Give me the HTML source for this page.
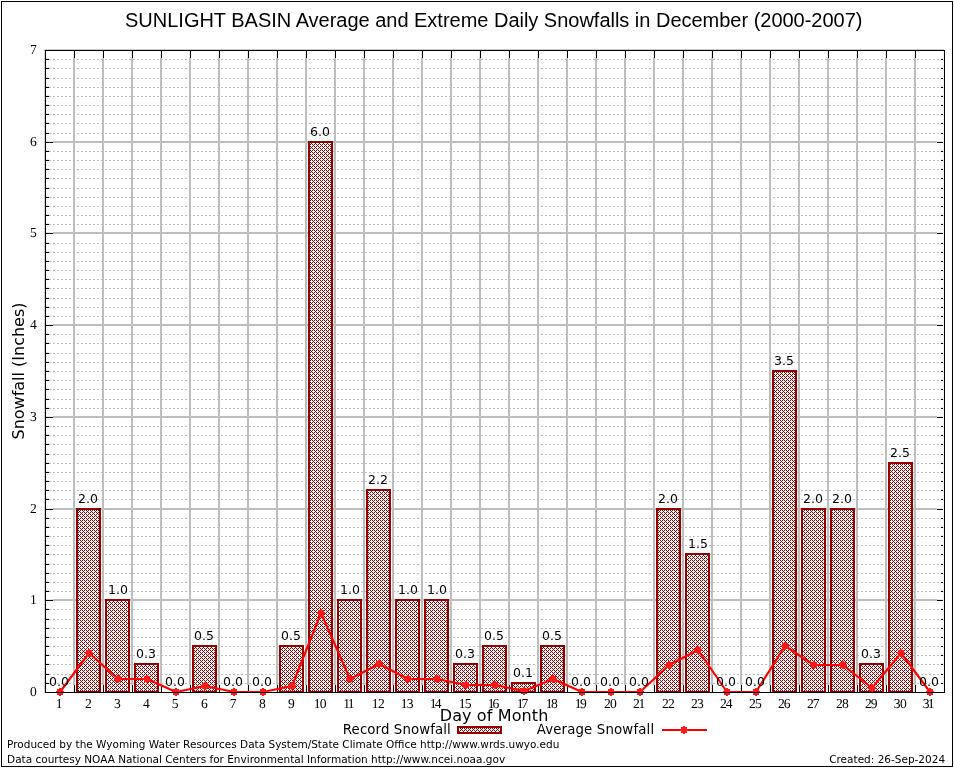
<!DOCTYPE html>
<html lang="en"><head><meta charset="utf-8"><title>SUNLIGHT BASIN Average and Extreme Daily Snowfalls in December (2000-2007)</title>
<style>html,body{margin:0;padding:0;background:#fff;}svg{display:block;}</style></head>
<body>
<svg width="954" height="768" viewBox="0 0 954 768">
<defs><pattern id="hatch" width="4" height="4" patternUnits="userSpaceOnUse" x="-1" y="-1"><rect width="4" height="4" fill="#fff"/><g fill="#960000" shape-rendering="crispEdges"><rect x="0" y="0" width="1" height="1"/><rect x="1" y="1" width="1" height="1"/><rect x="2" y="2" width="1" height="1"/><rect x="3" y="3" width="1" height="1"/><rect x="3" y="1" width="1" height="1"/><rect x="1" y="3" width="1" height="1"/></g></pattern></defs>
<rect x="0" y="0" width="954" height="768" fill="#fff"/>
<g shape-rendering="crispEdges">
<rect x="1.5" y="1.5" width="951" height="765" fill="none" stroke="#000" stroke-width="1"/></g>
<g stroke="#bebebe" stroke-width="1" stroke-dasharray="2 2">
<line x1="45" y1="683.5" x2="944" y2="683.5"/>
<line x1="45" y1="674.5" x2="944" y2="674.5"/>
<line x1="45" y1="664.5" x2="944" y2="664.5"/>
<line x1="45" y1="655.5" x2="944" y2="655.5"/>
<line x1="45" y1="646.5" x2="944" y2="646.5"/>
<line x1="45" y1="637.5" x2="944" y2="637.5"/>
<line x1="45" y1="628.5" x2="944" y2="628.5"/>
<line x1="45" y1="619.5" x2="944" y2="619.5"/>
<line x1="45" y1="609.5" x2="944" y2="609.5"/>
<line x1="45" y1="591.5" x2="944" y2="591.5"/>
<line x1="45" y1="582.5" x2="944" y2="582.5"/>
<line x1="45" y1="573.5" x2="944" y2="573.5"/>
<line x1="45" y1="564.5" x2="944" y2="564.5"/>
<line x1="45" y1="554.5" x2="944" y2="554.5"/>
<line x1="45" y1="545.5" x2="944" y2="545.5"/>
<line x1="45" y1="536.5" x2="944" y2="536.5"/>
<line x1="45" y1="527.5" x2="944" y2="527.5"/>
<line x1="45" y1="518.5" x2="944" y2="518.5"/>
<line x1="45" y1="499.5" x2="944" y2="499.5"/>
<line x1="45" y1="490.5" x2="944" y2="490.5"/>
<line x1="45" y1="481.5" x2="944" y2="481.5"/>
<line x1="45" y1="472.5" x2="944" y2="472.5"/>
<line x1="45" y1="463.5" x2="944" y2="463.5"/>
<line x1="45" y1="454.5" x2="944" y2="454.5"/>
<line x1="45" y1="444.5" x2="944" y2="444.5"/>
<line x1="45" y1="435.5" x2="944" y2="435.5"/>
<line x1="45" y1="426.5" x2="944" y2="426.5"/>
<line x1="45" y1="408.5" x2="944" y2="408.5"/>
<line x1="45" y1="399.5" x2="944" y2="399.5"/>
<line x1="45" y1="389.5" x2="944" y2="389.5"/>
<line x1="45" y1="380.5" x2="944" y2="380.5"/>
<line x1="45" y1="371.5" x2="944" y2="371.5"/>
<line x1="45" y1="362.5" x2="944" y2="362.5"/>
<line x1="45" y1="353.5" x2="944" y2="353.5"/>
<line x1="45" y1="343.5" x2="944" y2="343.5"/>
<line x1="45" y1="334.5" x2="944" y2="334.5"/>
<line x1="45" y1="316.5" x2="944" y2="316.5"/>
<line x1="45" y1="307.5" x2="944" y2="307.5"/>
<line x1="45" y1="298.5" x2="944" y2="298.5"/>
<line x1="45" y1="288.5" x2="944" y2="288.5"/>
<line x1="45" y1="279.5" x2="944" y2="279.5"/>
<line x1="45" y1="270.5" x2="944" y2="270.5"/>
<line x1="45" y1="261.5" x2="944" y2="261.5"/>
<line x1="45" y1="252.5" x2="944" y2="252.5"/>
<line x1="45" y1="243.5" x2="944" y2="243.5"/>
<line x1="45" y1="224.5" x2="944" y2="224.5"/>
<line x1="45" y1="215.5" x2="944" y2="215.5"/>
<line x1="45" y1="206.5" x2="944" y2="206.5"/>
<line x1="45" y1="197.5" x2="944" y2="197.5"/>
<line x1="45" y1="188.5" x2="944" y2="188.5"/>
<line x1="45" y1="178.5" x2="944" y2="178.5"/>
<line x1="45" y1="169.5" x2="944" y2="169.5"/>
<line x1="45" y1="160.5" x2="944" y2="160.5"/>
<line x1="45" y1="151.5" x2="944" y2="151.5"/>
<line x1="45" y1="133.5" x2="944" y2="133.5"/>
<line x1="45" y1="123.5" x2="944" y2="123.5"/>
<line x1="45" y1="114.5" x2="944" y2="114.5"/>
<line x1="45" y1="105.5" x2="944" y2="105.5"/>
<line x1="45" y1="96.5" x2="944" y2="96.5"/>
<line x1="45" y1="87.5" x2="944" y2="87.5"/>
<line x1="45" y1="78.5" x2="944" y2="78.5"/>
<line x1="45" y1="68.5" x2="944" y2="68.5"/>
<line x1="45" y1="59.5" x2="944" y2="59.5"/>
</g>
<g stroke="#bebebe" stroke-width="2">
<line x1="74" y1="50" x2="74" y2="692"/>
<line x1="103" y1="50" x2="103" y2="692"/>
<line x1="132" y1="50" x2="132" y2="692"/>
<line x1="161" y1="50" x2="161" y2="692"/>
<line x1="190" y1="50" x2="190" y2="692"/>
<line x1="219" y1="50" x2="219" y2="692"/>
<line x1="248" y1="50" x2="248" y2="692"/>
<line x1="277" y1="50" x2="277" y2="692"/>
<line x1="306" y1="50" x2="306" y2="692"/>
<line x1="335" y1="50" x2="335" y2="692"/>
<line x1="364" y1="50" x2="364" y2="692"/>
<line x1="393" y1="50" x2="393" y2="692"/>
<line x1="422" y1="50" x2="422" y2="692"/>
<line x1="451" y1="50" x2="451" y2="692"/>
<line x1="480" y1="50" x2="480" y2="692"/>
<line x1="509" y1="50" x2="509" y2="692"/>
<line x1="538" y1="50" x2="538" y2="692"/>
<line x1="567" y1="50" x2="567" y2="692"/>
<line x1="596" y1="50" x2="596" y2="692"/>
<line x1="625" y1="50" x2="625" y2="692"/>
<line x1="654" y1="50" x2="654" y2="692"/>
<line x1="683" y1="50" x2="683" y2="692"/>
<line x1="712" y1="50" x2="712" y2="692"/>
<line x1="741" y1="50" x2="741" y2="692"/>
<line x1="770" y1="50" x2="770" y2="692"/>
<line x1="799" y1="50" x2="799" y2="692"/>
<line x1="828" y1="50" x2="828" y2="692"/>
<line x1="857" y1="50" x2="857" y2="692"/>
<line x1="886" y1="50" x2="886" y2="692"/>
<line x1="915" y1="50" x2="915" y2="692"/>
<line x1="45" y1="600" x2="944" y2="600"/>
<line x1="45" y1="509" x2="944" y2="509"/>
<line x1="45" y1="417" x2="944" y2="417"/>
<line x1="45" y1="325" x2="944" y2="325"/>
<line x1="45" y1="233" x2="944" y2="233"/>
<line x1="45" y1="142" x2="944" y2="142"/>
</g>
<g shape-rendering="crispEdges"><path fill="#e8e8e8" d="M73 50h1v8h-1zM73 685h1v8h-1zM102 50h1v8h-1zM102 685h1v8h-1zM131 50h1v8h-1zM131 685h1v8h-1zM160 50h1v8h-1zM160 685h1v8h-1zM189 50h1v8h-1zM189 685h1v8h-1zM218 50h1v8h-1zM218 685h1v8h-1zM247 50h1v8h-1zM247 685h1v8h-1zM276 50h1v8h-1zM276 685h1v8h-1zM305 50h1v8h-1zM305 685h1v8h-1zM334 50h1v8h-1zM334 685h1v8h-1zM363 50h1v8h-1zM363 685h1v8h-1zM392 50h1v8h-1zM392 685h1v8h-1zM421 50h1v8h-1zM421 685h1v8h-1zM450 50h1v8h-1zM450 685h1v8h-1zM479 50h1v8h-1zM479 685h1v8h-1zM508 50h1v8h-1zM508 685h1v8h-1zM537 50h1v8h-1zM537 685h1v8h-1zM566 50h1v8h-1zM566 685h1v8h-1zM595 50h1v8h-1zM595 685h1v8h-1zM624 50h1v8h-1zM624 685h1v8h-1zM653 50h1v8h-1zM653 685h1v8h-1zM682 50h1v8h-1zM682 685h1v8h-1zM711 50h1v8h-1zM711 685h1v8h-1zM740 50h1v8h-1zM740 685h1v8h-1zM769 50h1v8h-1zM769 685h1v8h-1zM798 50h1v8h-1zM798 685h1v8h-1zM827 50h1v8h-1zM827 685h1v8h-1zM856 50h1v8h-1zM856 685h1v8h-1zM885 50h1v8h-1zM885 685h1v8h-1zM914 50h1v8h-1zM914 685h1v8h-1zM45 682h4v1h-4zM941 682h2v1h-2zM45 673h4v1h-4zM941 673h2v1h-2zM45 663h4v1h-4zM941 663h2v1h-2zM45 654h4v1h-4zM941 654h2v1h-2zM45 645h4v1h-4zM941 645h2v1h-2zM45 636h4v1h-4zM941 636h2v1h-2zM45 627h4v1h-4zM941 627h2v1h-2zM45 618h4v1h-4zM941 618h2v1h-2zM45 608h4v1h-4zM941 608h2v1h-2zM45 599h8v1h-8zM937 599h6v1h-6zM45 590h4v1h-4zM941 590h2v1h-2zM45 581h4v1h-4zM941 581h2v1h-2zM45 572h4v1h-4zM941 572h2v1h-2zM45 563h4v1h-4zM941 563h2v1h-2zM45 553h4v1h-4zM941 553h2v1h-2zM45 544h4v1h-4zM941 544h2v1h-2zM45 535h4v1h-4zM941 535h2v1h-2zM45 526h4v1h-4zM941 526h2v1h-2zM45 517h4v1h-4zM941 517h2v1h-2zM45 508h8v1h-8zM937 508h6v1h-6zM45 498h4v1h-4zM941 498h2v1h-2zM45 489h4v1h-4zM941 489h2v1h-2zM45 480h4v1h-4zM941 480h2v1h-2zM45 471h4v1h-4zM941 471h2v1h-2zM45 462h4v1h-4zM941 462h2v1h-2zM45 453h4v1h-4zM941 453h2v1h-2zM45 443h4v1h-4zM941 443h2v1h-2zM45 434h4v1h-4zM941 434h2v1h-2zM45 425h4v1h-4zM941 425h2v1h-2zM45 416h8v1h-8zM937 416h6v1h-6zM45 407h4v1h-4zM941 407h2v1h-2zM45 398h4v1h-4zM941 398h2v1h-2zM45 388h4v1h-4zM941 388h2v1h-2zM45 379h4v1h-4zM941 379h2v1h-2zM45 370h4v1h-4zM941 370h2v1h-2zM45 361h4v1h-4zM941 361h2v1h-2zM45 352h4v1h-4zM941 352h2v1h-2zM45 342h4v1h-4zM941 342h2v1h-2zM45 333h4v1h-4zM941 333h2v1h-2zM45 324h8v1h-8zM937 324h6v1h-6zM45 315h4v1h-4zM941 315h2v1h-2zM45 306h4v1h-4zM941 306h2v1h-2zM45 297h4v1h-4zM941 297h2v1h-2zM45 287h4v1h-4zM941 287h2v1h-2zM45 278h4v1h-4zM941 278h2v1h-2zM45 269h4v1h-4zM941 269h2v1h-2zM45 260h4v1h-4zM941 260h2v1h-2zM45 251h4v1h-4zM941 251h2v1h-2zM45 242h4v1h-4zM941 242h2v1h-2zM45 232h8v1h-8zM937 232h6v1h-6zM45 223h4v1h-4zM941 223h2v1h-2zM45 214h4v1h-4zM941 214h2v1h-2zM45 205h4v1h-4zM941 205h2v1h-2zM45 196h4v1h-4zM941 196h2v1h-2zM45 187h4v1h-4zM941 187h2v1h-2zM45 177h4v1h-4zM941 177h2v1h-2zM45 168h4v1h-4zM941 168h2v1h-2zM45 159h4v1h-4zM941 159h2v1h-2zM45 150h4v1h-4zM941 150h2v1h-2zM45 141h8v1h-8zM937 141h6v1h-6zM45 132h4v1h-4zM941 132h2v1h-2zM45 122h4v1h-4zM941 122h2v1h-2zM45 113h4v1h-4zM941 113h2v1h-2zM45 104h4v1h-4zM941 104h2v1h-2zM45 95h4v1h-4zM941 95h2v1h-2zM45 86h4v1h-4zM941 86h2v1h-2zM45 77h4v1h-4zM941 77h2v1h-2zM45 67h4v1h-4zM941 67h2v1h-2zM45 58h4v1h-4zM941 58h2v1h-2z"/><path fill="#000" d="M74 50h1v8h-1zM74 685h1v8h-1zM103 50h1v8h-1zM103 685h1v8h-1zM132 50h1v8h-1zM132 685h1v8h-1zM161 50h1v8h-1zM161 685h1v8h-1zM190 50h1v8h-1zM190 685h1v8h-1zM219 50h1v8h-1zM219 685h1v8h-1zM248 50h1v8h-1zM248 685h1v8h-1zM277 50h1v8h-1zM277 685h1v8h-1zM306 50h1v8h-1zM306 685h1v8h-1zM335 50h1v8h-1zM335 685h1v8h-1zM364 50h1v8h-1zM364 685h1v8h-1zM393 50h1v8h-1zM393 685h1v8h-1zM422 50h1v8h-1zM422 685h1v8h-1zM451 50h1v8h-1zM451 685h1v8h-1zM480 50h1v8h-1zM480 685h1v8h-1zM509 50h1v8h-1zM509 685h1v8h-1zM538 50h1v8h-1zM538 685h1v8h-1zM567 50h1v8h-1zM567 685h1v8h-1zM596 50h1v8h-1zM596 685h1v8h-1zM625 50h1v8h-1zM625 685h1v8h-1zM654 50h1v8h-1zM654 685h1v8h-1zM683 50h1v8h-1zM683 685h1v8h-1zM712 50h1v8h-1zM712 685h1v8h-1zM741 50h1v8h-1zM741 685h1v8h-1zM770 50h1v8h-1zM770 685h1v8h-1zM799 50h1v8h-1zM799 685h1v8h-1zM828 50h1v8h-1zM828 685h1v8h-1zM857 50h1v8h-1zM857 685h1v8h-1zM886 50h1v8h-1zM886 685h1v8h-1zM915 50h1v8h-1zM915 685h1v8h-1zM45 683h4v1h-4zM941 683h2v1h-2zM45 674h4v1h-4zM941 674h2v1h-2zM45 664h4v1h-4zM941 664h2v1h-2zM45 655h4v1h-4zM941 655h2v1h-2zM45 646h4v1h-4zM941 646h2v1h-2zM45 637h4v1h-4zM941 637h2v1h-2zM45 628h4v1h-4zM941 628h2v1h-2zM45 619h4v1h-4zM941 619h2v1h-2zM45 609h4v1h-4zM941 609h2v1h-2zM45 600h8v1h-8zM937 600h6v1h-6zM45 591h4v1h-4zM941 591h2v1h-2zM45 582h4v1h-4zM941 582h2v1h-2zM45 573h4v1h-4zM941 573h2v1h-2zM45 564h4v1h-4zM941 564h2v1h-2zM45 554h4v1h-4zM941 554h2v1h-2zM45 545h4v1h-4zM941 545h2v1h-2zM45 536h4v1h-4zM941 536h2v1h-2zM45 527h4v1h-4zM941 527h2v1h-2zM45 518h4v1h-4zM941 518h2v1h-2zM45 509h8v1h-8zM937 509h6v1h-6zM45 499h4v1h-4zM941 499h2v1h-2zM45 490h4v1h-4zM941 490h2v1h-2zM45 481h4v1h-4zM941 481h2v1h-2zM45 472h4v1h-4zM941 472h2v1h-2zM45 463h4v1h-4zM941 463h2v1h-2zM45 454h4v1h-4zM941 454h2v1h-2zM45 444h4v1h-4zM941 444h2v1h-2zM45 435h4v1h-4zM941 435h2v1h-2zM45 426h4v1h-4zM941 426h2v1h-2zM45 417h8v1h-8zM937 417h6v1h-6zM45 408h4v1h-4zM941 408h2v1h-2zM45 399h4v1h-4zM941 399h2v1h-2zM45 389h4v1h-4zM941 389h2v1h-2zM45 380h4v1h-4zM941 380h2v1h-2zM45 371h4v1h-4zM941 371h2v1h-2zM45 362h4v1h-4zM941 362h2v1h-2zM45 353h4v1h-4zM941 353h2v1h-2zM45 343h4v1h-4zM941 343h2v1h-2zM45 334h4v1h-4zM941 334h2v1h-2zM45 325h8v1h-8zM937 325h6v1h-6zM45 316h4v1h-4zM941 316h2v1h-2zM45 307h4v1h-4zM941 307h2v1h-2zM45 298h4v1h-4zM941 298h2v1h-2zM45 288h4v1h-4zM941 288h2v1h-2zM45 279h4v1h-4zM941 279h2v1h-2zM45 270h4v1h-4zM941 270h2v1h-2zM45 261h4v1h-4zM941 261h2v1h-2zM45 252h4v1h-4zM941 252h2v1h-2zM45 243h4v1h-4zM941 243h2v1h-2zM45 233h8v1h-8zM937 233h6v1h-6zM45 224h4v1h-4zM941 224h2v1h-2zM45 215h4v1h-4zM941 215h2v1h-2zM45 206h4v1h-4zM941 206h2v1h-2zM45 197h4v1h-4zM941 197h2v1h-2zM45 188h4v1h-4zM941 188h2v1h-2zM45 178h4v1h-4zM941 178h2v1h-2zM45 169h4v1h-4zM941 169h2v1h-2zM45 160h4v1h-4zM941 160h2v1h-2zM45 151h4v1h-4zM941 151h2v1h-2zM45 142h8v1h-8zM937 142h6v1h-6zM45 133h4v1h-4zM941 133h2v1h-2zM45 123h4v1h-4zM941 123h2v1h-2zM45 114h4v1h-4zM941 114h2v1h-2zM45 105h4v1h-4zM941 105h2v1h-2zM45 96h4v1h-4zM941 96h2v1h-2zM45 87h4v1h-4zM941 87h2v1h-2zM45 78h4v1h-4zM941 78h2v1h-2zM45 68h4v1h-4zM941 68h2v1h-2zM45 59h4v1h-4zM941 59h2v1h-2z"/></g>
<g fill="url(#hatch)" stroke="#960000" stroke-width="2">
<rect x="77" y="509" width="23" height="183"/>
<rect x="106" y="600" width="23" height="92"/>
<rect x="135" y="664" width="23" height="28"/>
<rect x="193" y="646" width="23" height="46"/>
<rect x="280" y="646" width="23" height="46"/>
<rect x="309" y="142" width="23" height="550"/>
<rect x="338" y="600" width="23" height="92"/>
<rect x="367" y="490" width="23" height="202"/>
<rect x="396" y="600" width="23" height="92"/>
<rect x="425" y="600" width="23" height="92"/>
<rect x="454" y="664" width="23" height="28"/>
<rect x="483" y="646" width="23" height="46"/>
<rect x="512" y="683" width="23" height="9"/>
<rect x="541" y="646" width="23" height="46"/>
<rect x="657" y="509" width="23" height="183"/>
<rect x="686" y="554" width="23" height="138"/>
<rect x="773" y="371" width="23" height="321"/>
<rect x="802" y="509" width="23" height="183"/>
<rect x="831" y="509" width="23" height="183"/>
<rect x="860" y="664" width="23" height="28"/>
<rect x="889" y="463" width="23" height="229"/>
</g>
<polyline points="60.00,692 89.00,653 118.00,679 147.00,679 176.00,692 205.00,686 234.00,692 263.00,692 292.00,686 321.00,613 350.00,679 379.00,664 408.00,679 437.00,679 466.00,685 495.00,685 524.00,691 553.00,679 582.00,692 611.00,692 640.00,692 669.00,665 698.00,650 727.00,692 756.00,692 785.00,646 814.00,665 843.00,665 872.00,688 901.00,653 930.00,692" fill="none" stroke="#ff0000" stroke-width="2.1" stroke-linejoin="round"/>
<g fill="#ff1a1a" shape-rendering="crispEdges">
<path d="M59 688h2v1h2v2h1v2h-1v2h-2v1h-2v-1h-2v-2h-1v-2h1v-2h2z"/>
<path d="M88 649h2v1h2v2h1v2h-1v2h-2v1h-2v-1h-2v-2h-1v-2h1v-2h2z"/>
<path d="M117 675h2v1h2v2h1v2h-1v2h-2v1h-2v-1h-2v-2h-1v-2h1v-2h2z"/>
<path d="M146 675h2v1h2v2h1v2h-1v2h-2v1h-2v-1h-2v-2h-1v-2h1v-2h2z"/>
<path d="M175 688h2v1h2v2h1v2h-1v2h-2v1h-2v-1h-2v-2h-1v-2h1v-2h2z"/>
<path d="M204 682h2v1h2v2h1v2h-1v2h-2v1h-2v-1h-2v-2h-1v-2h1v-2h2z"/>
<path d="M233 688h2v1h2v2h1v2h-1v2h-2v1h-2v-1h-2v-2h-1v-2h1v-2h2z"/>
<path d="M262 688h2v1h2v2h1v2h-1v2h-2v1h-2v-1h-2v-2h-1v-2h1v-2h2z"/>
<path d="M291 682h2v1h2v2h1v2h-1v2h-2v1h-2v-1h-2v-2h-1v-2h1v-2h2z"/>
<path d="M320 609h2v1h2v2h1v2h-1v2h-2v1h-2v-1h-2v-2h-1v-2h1v-2h2z"/>
<path d="M349 675h2v1h2v2h1v2h-1v2h-2v1h-2v-1h-2v-2h-1v-2h1v-2h2z"/>
<path d="M378 660h2v1h2v2h1v2h-1v2h-2v1h-2v-1h-2v-2h-1v-2h1v-2h2z"/>
<path d="M407 675h2v1h2v2h1v2h-1v2h-2v1h-2v-1h-2v-2h-1v-2h1v-2h2z"/>
<path d="M436 675h2v1h2v2h1v2h-1v2h-2v1h-2v-1h-2v-2h-1v-2h1v-2h2z"/>
<path d="M465 681h2v1h2v2h1v2h-1v2h-2v1h-2v-1h-2v-2h-1v-2h1v-2h2z"/>
<path d="M494 681h2v1h2v2h1v2h-1v2h-2v1h-2v-1h-2v-2h-1v-2h1v-2h2z"/>
<path d="M523 687h2v1h2v2h1v2h-1v2h-2v1h-2v-1h-2v-2h-1v-2h1v-2h2z"/>
<path d="M552 675h2v1h2v2h1v2h-1v2h-2v1h-2v-1h-2v-2h-1v-2h1v-2h2z"/>
<path d="M581 688h2v1h2v2h1v2h-1v2h-2v1h-2v-1h-2v-2h-1v-2h1v-2h2z"/>
<path d="M610 688h2v1h2v2h1v2h-1v2h-2v1h-2v-1h-2v-2h-1v-2h1v-2h2z"/>
<path d="M639 688h2v1h2v2h1v2h-1v2h-2v1h-2v-1h-2v-2h-1v-2h1v-2h2z"/>
<path d="M668 661h2v1h2v2h1v2h-1v2h-2v1h-2v-1h-2v-2h-1v-2h1v-2h2z"/>
<path d="M697 646h2v1h2v2h1v2h-1v2h-2v1h-2v-1h-2v-2h-1v-2h1v-2h2z"/>
<path d="M726 688h2v1h2v2h1v2h-1v2h-2v1h-2v-1h-2v-2h-1v-2h1v-2h2z"/>
<path d="M755 688h2v1h2v2h1v2h-1v2h-2v1h-2v-1h-2v-2h-1v-2h1v-2h2z"/>
<path d="M784 642h2v1h2v2h1v2h-1v2h-2v1h-2v-1h-2v-2h-1v-2h1v-2h2z"/>
<path d="M813 661h2v1h2v2h1v2h-1v2h-2v1h-2v-1h-2v-2h-1v-2h1v-2h2z"/>
<path d="M842 661h2v1h2v2h1v2h-1v2h-2v1h-2v-1h-2v-2h-1v-2h1v-2h2z"/>
<path d="M871 684h2v1h2v2h1v2h-1v2h-2v1h-2v-1h-2v-2h-1v-2h1v-2h2z"/>
<path d="M900 649h2v1h2v2h1v2h-1v2h-2v1h-2v-1h-2v-2h-1v-2h1v-2h2z"/>
<path d="M929 688h2v1h2v2h1v2h-1v2h-2v1h-2v-1h-2v-2h-1v-2h1v-2h2z"/>
</g>
<g font-family="'DejaVu Sans', sans-serif" font-size="12.5px" text-anchor="middle" fill="#000">
<text x="59.00" y="685.80">0.0</text>
<text x="88.00" y="502.80">2.0</text>
<text x="117.90" y="593.80">1.0</text>
<text x="146.00" y="657.80">0.3</text>
<text x="175.00" y="685.80">0.0</text>
<text x="204.00" y="639.80">0.5</text>
<text x="233.00" y="685.80">0.0</text>
<text x="262.00" y="685.80">0.0</text>
<text x="291.00" y="639.80">0.5</text>
<text x="320.00" y="135.80">6.0</text>
<text x="349.90" y="593.80">1.0</text>
<text x="378.00" y="483.80">2.2</text>
<text x="407.90" y="593.80">1.0</text>
<text x="436.90" y="593.80">1.0</text>
<text x="465.00" y="657.80">0.3</text>
<text x="494.00" y="639.80">0.5</text>
<text x="523.00" y="676.80">0.1</text>
<text x="552.00" y="639.80">0.5</text>
<text x="581.00" y="685.80">0.0</text>
<text x="610.00" y="685.80">0.0</text>
<text x="639.00" y="685.80">0.0</text>
<text x="668.00" y="502.80">2.0</text>
<text x="697.90" y="547.80">1.5</text>
<text x="726.00" y="685.80">0.0</text>
<text x="755.00" y="685.80">0.0</text>
<text x="784.00" y="364.80">3.5</text>
<text x="813.00" y="502.80">2.0</text>
<text x="842.00" y="502.80">2.0</text>
<text x="871.00" y="657.80">0.3</text>
<text x="900.00" y="456.80">2.5</text>
<text x="929.00" y="685.80">0.0</text>
</g>
<g shape-rendering="crispEdges"><path fill="#cfcfcf" d="M44 49h900v1h-899v643h-1z"/><path fill="#f2f2f2" d="M943 51h1v641h-1z"/>
<rect x="45.5" y="50.5" width="899" height="642" fill="none" stroke="#000" stroke-width="1"/></g>
<g font-family="'Liberation Serif', serif" font-size="13.6px" fill="#000" text-rendering="geometricPrecision">
<g>
<text x="55.81" y="708">1</text>
<text x="85.08" y="708">2</text>
<text x="113.94" y="708">3</text>
<text x="142.97" y="708">4</text>
<text x="171.87" y="708">5</text>
<text x="200.91" y="708">6</text>
<text x="229.75" y="708">7</text>
<text x="259.00" y="708">8</text>
<text x="288.06" y="708">9</text>
<text x="313.81 319.70" y="708">10</text>
<text x="343.15 347.76" y="708">11</text>
<text x="371.81 377.98" y="708">12</text>
<text x="400.81 406.74" y="708">13</text>
<text x="429.81 434.82" y="708">14</text>
<text x="458.81 464.67" y="708">15</text>
<text x="487.81 492.61" y="708">16</text>
<text x="516.81 521.40" y="708">17</text>
<text x="545.81 551.10" y="708">18</text>
<text x="574.81 579.91" y="708">19</text>
<text x="603.88 610.05" y="708">20</text>
<text x="632.88 638.51" y="708">21</text>
<text x="661.88 668.08" y="708">22</text>
<text x="690.88 696.99" y="708">23</text>
<text x="719.88 725.87" y="708">24</text>
<text x="748.88 755.07" y="708">25</text>
<text x="777.88 783.71" y="708">26</text>
<text x="806.88 812.65" y="708">27</text>
<text x="835.88 842.00" y="708">28</text>
<text x="864.88 870.66" y="708">29</text>
<text x="893.84 900.00" y="708">30</text>
<text x="922.84 927.71" y="708">31</text>
</g><g text-anchor="end">
<text x="36.7" y="695.80">0</text>
<text x="36.7" y="603.80">1</text>
<text x="36.7" y="512.80">2</text>
<text x="36.7" y="420.80">3</text>
<text x="36.7" y="328.80">4</text>
<text x="36.7" y="236.80">5</text>
<text x="36.7" y="145.80">6</text>
<text x="36.7" y="53.80">7</text>
</g></g>
<text x="125.05" y="26.5" font-family="'Liberation Sans', sans-serif" font-size="20px" textLength="737.4" lengthAdjust="spacing" fill="#000">SUNLIGHT BASIN Average and Extreme Daily Snowfalls in December (2000-2007)</text>
<g font-family="'DejaVu Sans', sans-serif" fill="#000">
<text x="439.7" y="721" font-size="16px" textLength="108.7" lengthAdjust="spacing">Day of Month</text>
<text transform="translate(24.2,371) rotate(-90)" font-size="16px" text-anchor="middle">Snowfall (Inches)</text>
<text x="342.8" y="734" font-size="13.33px" textLength="108" lengthAdjust="spacing">Record Snowfall</text>
<text x="536.7" y="734" font-size="13.33px" textLength="117.4" lengthAdjust="spacing">Average Snowfall</text>
<text x="7.1" y="747.5" font-size="10.5px">Produced by the Wyoming Water Resources Data System/State Climate Office http://www.wrds.uwyo.edu</text>
<text x="7.1" y="762.5" font-size="10.5px">Data courtesy NOAA National Centers for Environmental Information http://www.ncei.noaa.gov</text>
<text x="945.1" y="762.5" font-size="10.5px" text-anchor="end">Created: 26-Sep-2024</text>
</g>
<rect x="458" y="727" width="43" height="6" fill="url(#hatch)" stroke="#960000" stroke-width="2"/>
<line x1="662" y1="730" x2="707" y2="730" stroke="#ff0000" stroke-width="2.1"/>
<g fill="#ff1a1a" shape-rendering="crispEdges"><path d="M683 726h2v1h2v2h1v2h-1v2h-2v1h-2v-1h-2v-2h-1v-2h1v-2h2z"/></g>
</svg>
</body></html>
